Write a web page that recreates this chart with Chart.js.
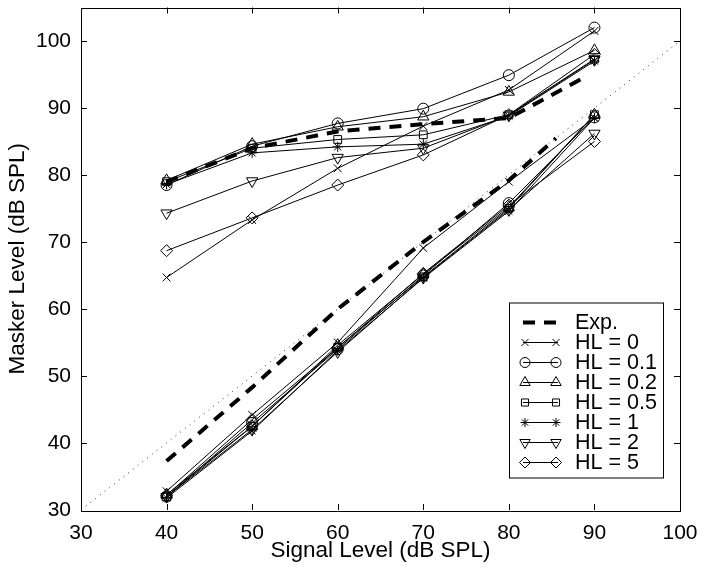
<!DOCTYPE html>
<html>
<head>
<meta charset="utf-8">
<script src="https://cdn.jsdelivr.net/npm/chart.js@4.4.1/dist/chart.umd.min.js"></script>
<style>
  html, body { margin: 0; padding: 0; background: #fff; }
</style>
</head>
<body>
<canvas id="chart" width="702" height="572"></canvas>
<script>
// Signal levels (dB SPL)
const signalLevels = [40, 50, 60, 70, 80, 90];

// Upper branch of each model curve (masker level, dB SPL)
const hl0Upper  = [64.7, 73.3, 81.0, 87.3, 92.7, 101.5];
const hl01Upper = [78.5, 84.3, 87.7, 89.9, 94.9, 102.0];
const hl02Upper = [79.2, 84.6, 87.2, 88.7, 92.4, 98.6];
const hl05Upper = [79.0, 84.0, 85.3, 86.0, 89.0, 97.3];
const hl1Upper  = [78.6, 83.3, 84.2, 84.6, 88.8, 97.0];
const hl2Upper  = [74.3, 79.1, 82.6, 84.0, 88.9, 97.2];
const hl5Upper  = [68.7, 73.6, 78.5, 83.0, 89.0, 98.0];

// Lower branch
const hl0Lower  = [32.8, 44.2, 55.0, 69.1, 79.0, 88.5];
const hl01Lower = [32.0, 43.0, 54.0, 65.0, 75.8, 88.6];
const hl02Lower = [32.3, 42.5, 54.6, 65.2, 75.2, 89.0];
const hl05Lower = [32.0, 42.5, 54.3, 64.8, 75.0, 89.0];
const hl1Lower  = [31.8, 41.8, 53.8, 64.6, 74.6, 88.5];
const hl2Lower  = [32.0, 42.0, 53.6, 64.7, 74.8, 86.2];
const hl5Lower  = [32.2, 43.5, 54.2, 65.3, 75.5, 85.0];

// Experimental data
const expUpperX = [40, 50, 60, 70, 80, 89];
const expUpper  = [79.0, 84.0, 86.5, 87.6, 88.5, 94.7];
const expLowerX = [40, 50, 60, 70, 80, 85.5];
const expLower  = [37.3, 48.3, 60.0, 70.0, 79.2, 85.5];

// Diagonal reference (masker = signal)
const diagX = [30, 100];
const diagY = [30, 100];

const xTicks = [30, 40, 50, 60, 70, 80, 90, 100];
const yTicks = [30, 40, 50, 60, 70, 80, 90, 100];

const FONT = "'Liberation Sans', Arial, Helvetica, sans-serif";

function pts(xs, ys) {
  return xs.map((x, i) => ({ x: x, y: ys[i] }));
}

// one entry per HL value: marker and the two branches
const models = [
  { label: 'HL = 0',   style: 'crossRot', rot: 0,   r: 5.5, up: hl0Upper,  low: hl0Lower },
  { label: 'HL = 0.1', style: 'circle',   rot: 0,   r: 5.5, up: hl01Upper, low: hl01Lower },
  { label: 'HL = 0.2', style: 'triangle', rot: 0,   r: 6.5, up: hl02Upper, low: hl02Lower },
  { label: 'HL = 0.5', style: 'rect',     rot: 0,   r: 5.5, up: hl05Upper, low: hl05Lower },
  { label: 'HL = 1',   style: 'star',     rot: 0,   r: 5,   up: hl1Upper,  low: hl1Lower },
  { label: 'HL = 2',   style: 'triangle', rot: 180, r: 6.5, up: hl2Upper,  low: hl2Lower },
  { label: 'HL = 5',   style: 'rectRot',  rot: 0,   r: 6,   up: hl5Upper,  low: hl5Lower }
];

const datasets = [];

datasets.push({
  label: 'diag',
  data: pts(diagX, diagY),
  borderColor: '#333',
  borderWidth: 1,
  borderDash: [1, 5],
  pointRadius: 0
});

models.forEach(m => {
  [m.up, m.low].forEach(vals => {
    datasets.push({
      label: m.label,
      data: pts(signalLevels, vals),
      borderColor: '#000',
      borderWidth: 1,
      pointStyle: m.style,
      pointRotation: m.rot,
      pointRadius: m.r,
      pointBorderWidth: 1,
      pointBorderColor: '#000',
      pointBackgroundColor: 'rgba(0,0,0,0)'
    });
  });
});

[[expUpperX, expUpper], [expLowerX, expLower]].forEach(pair => {
  datasets.push({
    label: 'Exp.',
    data: pts(pair[0], pair[1]),
    borderColor: '#000',
    borderWidth: 4,
    borderDash: [12, 9],
    borderCapStyle: 'butt',
    pointRadius: 0
  });
});

// box with inward tick marks, like the original figure
const frame = {
  id: 'frame',
  afterDraw(chart) {
    const { ctx, chartArea: a, scales: { x, y } } = chart;
    ctx.save();
    ctx.strokeStyle = '#000';
    ctx.lineWidth = 1;
    ctx.strokeRect(Math.round(a.left) + 0.5, Math.round(a.top) + 0.5,
      Math.round(a.right - a.left), Math.round(a.bottom - a.top));
    const len = 6;
    ctx.beginPath();
    x.ticks.forEach(t => {
      const px = Math.round(x.getPixelForValue(t.value)) + 0.5;
      if (px < a.left + 2 || px > a.right - 2) return;
      ctx.moveTo(px, a.bottom); ctx.lineTo(px, a.bottom - len);
      ctx.moveTo(px, a.top); ctx.lineTo(px, a.top + len);
    });
    y.ticks.forEach(t => {
      const py = Math.round(y.getPixelForValue(t.value)) + 0.5;
      if (py < a.top + 2 || py > a.bottom - 2) return;
      ctx.moveTo(a.left, py); ctx.lineTo(a.left + len, py);
      ctx.moveTo(a.right, py); ctx.lineTo(a.right - len, py);
    });
    ctx.stroke();
    ctx.restore();
  }
};

// legend box inside the plot, lower right
const legendBox = {
  id: 'legendBox',
  afterDraw(chart) {
    const { ctx, chartArea: a } = chart;
    const bx = a.left + 428, by = a.top + 295, bw = 154, bh = 175;
    ctx.save();
    ctx.fillStyle = '#fff';
    ctx.fillRect(bx, by, bw, bh);
    ctx.strokeStyle = '#000';
    ctx.lineWidth = 1;
    ctx.strokeRect(bx + 0.5, by + 0.5, bw, bh);

    const rows = [{ label: 'Exp.', dash: true }].concat(models);
    const x1 = bx + 14, x2 = bx + 49;
    ctx.font = '21.5px ' + FONT;
    ctx.textBaseline = 'middle';
    rows.forEach((row, i) => {
      const ry = by + 20 + i * 20;
      ctx.strokeStyle = '#000';
      ctx.beginPath();
      if (row.dash) {
        ctx.lineWidth = 4;
        ctx.setLineDash([12, 9]);
      } else {
        ctx.lineWidth = 1;
        ctx.setLineDash([]);
      }
      ctx.moveTo(x1, ry);
      ctx.lineTo(x2, ry);
      ctx.stroke();
      ctx.setLineDash([]);
      if (!row.dash) {
        const opts = { pointStyle: row.style, rotation: row.rot, radius: row.r - 0.5, borderWidth: 1 };
        ctx.lineWidth = 1;
        ctx.fillStyle = 'rgba(0,0,0,0)';
        Chart.helpers.drawPoint(ctx, opts, x1 + 2, ry);
        Chart.helpers.drawPoint(ctx, opts, x2 - 2, ry);
      }
      ctx.fillStyle = '#000';
      ctx.fillText(row.label, bx + 66, ry + 1);
    });
    ctx.restore();
  }
};

new Chart(document.getElementById('chart').getContext('2d'), {
  type: 'line',
  data: { datasets: datasets },
  options: {
    responsive: false,
    animation: false,
    layout: { padding: { top: 7, right: 22, left: 0, bottom: 0 } },
    plugins: {
      legend: { display: false },
      tooltip: { enabled: false }
    },
    scales: {
      x: {
        type: 'linear',
        min: 30,
        max: 100,
        afterBuildTicks: s => { s.ticks = xTicks.map(v => ({ value: v })); },
        afterFit: s => { s.height = 62; s.paddingLeft = 0; s.paddingRight = 0; },
        grid: { display: false, drawTicks: false },
        border: { display: false },
        ticks: { padding: 11, color: '#000', font: { family: FONT, size: 21 }, maxRotation: 0 },
        title: {
          display: true,
          text: 'Signal Level (dB SPL)',
          color: '#000',
          font: { family: FONT, size: 22.5 },
          padding: { top: 0, bottom: 8 }
        }
      },
      y: {
        type: 'linear',
        min: 30,
        max: 105,
        afterBuildTicks: s => { s.ticks = yTicks.map(v => ({ value: v })); },
        afterFit: s => { s.width = 81; s.paddingTop = 0; s.paddingBottom = 0; },
        grid: { display: false, drawTicks: false },
        border: { display: false },
        ticks: { padding: 10, color: '#000', font: { family: FONT, size: 21 } },
        title: {
          display: true,
          text: 'Masker Level (dB SPL)',
          color: '#000',
          font: { family: FONT, size: 22.5 },
          padding: { top: 4, bottom: 0 }
        }
      }
    }
  },
  plugins: [frame, legendBox]
});
</script>
</body>
</html>
